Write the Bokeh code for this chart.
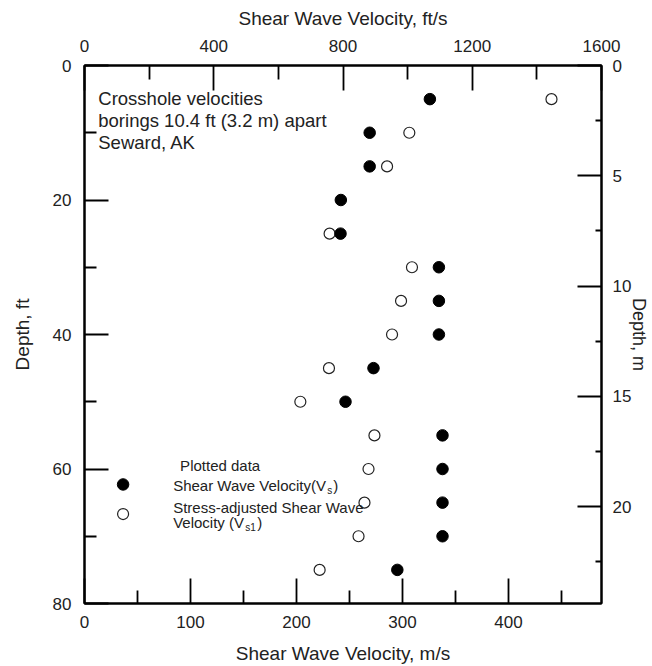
from bokeh.plotting import figure
from bokeh.models import Range1d, LinearAxis, FixedTicker, Label, ColumnDataSource
from bokeh.embed import file_html
from bokeh.resources import INLINE

# ---- data ----
depth_vs_ft = [5, 10, 15, 20, 25, 30, 35, 40, 45, 50, 55, 60, 65, 70, 75]
vs_ms = [325.8, 269.0, 269.0, 241.8, 241.5, 334.3, 334.3, 334.3, 272.6, 246.2,
         337.7, 337.7, 337.7, 337.7, 295.1]
depth_vs1_ft = [5, 10, 15, 25, 30, 35, 40, 45, 50, 55, 60, 65, 70, 75]
vs1_ms = [440.5, 306.4, 285.4, 231.2, 308.9, 298.6, 290.1, 230.6, 203.6,
          273.5, 267.9, 264.1, 258.5, 221.8]

bottom_ticks = [0, 100, 200, 300, 400]
bottom_minor = [50, 150, 250, 350, 450]
top_ticks = [0, 400, 800, 1200, 1600]
top_minor = [200, 600, 1000, 1400]
left_ticks = [0, 20, 40, 60, 80]
left_minor = [10, 30, 50, 70]
right_ticks = [0, 5, 10, 15, 20]
right_minor = [2.5, 7.5, 12.5, 17.5, 22.5]

FT_PER_M = 1 / 0.3048
x_max_ms = 1600 / FT_PER_M
y_max_ft = 80

FONT = "Liberation Sans"
TXT = "#222222"

p = figure(width=652, height=666,
           x_range=Range1d(0, x_max_ms), y_range=Range1d(y_max_ft, 0),
           output_backend="svg", toolbar_location=None,
           min_border_left=84, min_border_right=49,
           min_border_top=65, min_border_bottom=63)
p.extra_x_ranges = {"fts": Range1d(0, 1600)}
p.extra_y_ranges = {"m": Range1d(y_max_ft / FT_PER_M, 0)}
p.xgrid.visible = False
p.ygrid.visible = False
p.outline_line_color = "black"
p.outline_line_width = 2
p.background_fill_color = "white"
p.border_fill_color = "white"

top_axis = LinearAxis(x_range_name="fts", axis_label="Shear Wave Velocity, ft/s")
right_axis = LinearAxis(y_range_name="m", axis_label="Depth, m")
p.add_layout(top_axis, "above")
p.add_layout(right_axis, "right")

bx = p.below[0]
ly = p.left[0]
bx.axis_label = "Shear Wave Velocity, m/s"
ly.axis_label = "Depth, ft"

bx.ticker = FixedTicker(ticks=bottom_ticks, minor_ticks=bottom_minor)
top_axis.ticker = FixedTicker(ticks=top_ticks, minor_ticks=top_minor)
ly.ticker = FixedTicker(ticks=left_ticks, minor_ticks=left_minor)
right_axis.ticker = FixedTicker(ticks=right_ticks, minor_ticks=right_minor)

for ax in [bx, top_axis, ly, right_axis]:
    ax.axis_line_color = "black"
    ax.axis_line_width = 2
    ax.major_tick_line_color = "black"
    ax.minor_tick_line_color = "black"
    ax.major_tick_line_width = 1.8
    ax.minor_tick_line_width = 1.8
    ax.major_tick_out = 0
    ax.minor_tick_out = 0
    ax.major_label_text_font = FONT
    ax.major_label_text_font_size = "17px"
    ax.major_label_text_color = TXT
    ax.axis_label_text_font = FONT
    ax.axis_label_text_font_size = "19px"
    ax.axis_label_text_font_style = "normal"
    ax.axis_label_text_color = TXT

bx.major_label_standoff = 12
bx.axis_label_standoff = 12
top_axis.major_label_standoff = 14
top_axis.axis_label_standoff = 8
ly.major_label_standoff = 13
ly.axis_label_standoff = 17
right_axis.major_label_standoff = 11
right_axis.axis_label_standoff = -5
right_axis.axis_label_text_font_size = "18px"

bx.major_tick_in = 25
bx.minor_tick_in = 13
top_axis.major_tick_in = 25
top_axis.minor_tick_in = 14
ly.major_tick_in = 24
ly.minor_tick_in = 12
right_axis.major_tick_in = 24
right_axis.minor_tick_in = 6

src_vs = ColumnDataSource(data=dict(v=vs_ms, d=depth_vs_ft))
src_vs1 = ColumnDataSource(data=dict(v=vs1_ms, d=depth_vs1_ft))
p.scatter("v", "d", source=src_vs1, size=11, marker="circle",
          fill_color="white", line_color=TXT, line_width=1.2)
p.scatter("v", "d", source=src_vs, size=11.5, marker="circle",
          fill_color="black", line_color="black")

# annotation
note_lines = ["Crosshole velocities", "borings 10.4 ft (3.2 m) apart", "Seward, AK"]
for i, t in enumerate(note_lines):
    p.add_layout(Label(x=13, y=4.9 + i * 3.25, text=t, text_font=FONT,
                       text_font_size="18.5px", text_color=TXT,
                       text_baseline="middle", text_align="left"))

# legend
p.scatter([36.4], [62.3], size=11.5, marker="circle", fill_color="black", line_color="black")
p.scatter([36.4], [66.7], size=11, marker="circle", fill_color="white",
          line_color=TXT, line_width=1.2)

def lab(x, y, t, size="15px", xo=0, yo=0):
    p.add_layout(Label(x=x, y=y, text=t, text_font=FONT, text_font_size=size,
                       text_color=TXT, text_baseline="middle",
                       text_align="left", x_offset=xo, y_offset=yo))

lab(90.2, 59.5, "Plotted data")
lab(83.6, 62.5, "Shear Wave Velocity(V")
lab(83.6, 62.5, "s", size="10px", xo=154, yo=-5)
lab(83.6, 62.5, ")", xo=160)
lab(83.6, 65.7, "Stress-adjusted Shear Wave")
lab(83.6, 67.9, "Velocity (V")
lab(83.6, 67.9, "s1", size="10px", xo=72, yo=-5)
lab(83.6, 67.9, ")", xo=84)

open("out.html", "w").write(file_html(p, INLINE))
